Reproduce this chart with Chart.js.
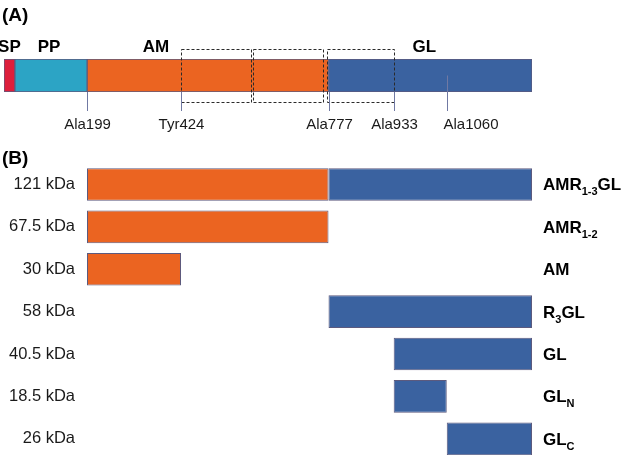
<!DOCTYPE html>
<html>
<head>
<meta charset="utf-8">
<script src="https://cdn.jsdelivr.net/npm/chart.js@4.4.1/dist/chart.umd.min.js"></script>
<style>
  html, body { margin: 0; padding: 0; background: #fff; overflow: hidden; }
  #wrap { position: relative; width: 625px; height: 455px; overflow: hidden; }
  canvas { position: absolute; left: 0; }
  #chart-a { top: 0; }
  #chart-b { top: 140px; }
</style>
</head>
<body>
<div id="wrap">
  <canvas id="chart-a" width="625" height="140"></canvas>
  <canvas id="chart-b" width="625" height="350"></canvas>
</div>
<script>
// (A) full-length protein, residue numbers
const domains = ['SP', 'PP', 'AM', 'GL'];
const domainStart = [0, 26, 199, 777];
const domainEnd = [26, 199, 777, 1264];
const domainColors = ['#dd1f3c', '#2ca4c5', '#eb6421', '#3a62a0'];

const markers = ['Ala199', 'Tyr424', 'Ala777', 'Ala933', 'Ala1060'];
const markerPos = [199, 424, 777, 933, 1060];

const repeatStart = [424, 597, 773];
const repeatEnd = [591, 763, 933];

// (B) constructs
const constructs = ['AMR_{1-3}GL', 'AMR_{1-2}', 'AM', 'R_{3}GL', 'GL', 'GL_{N}', 'GL_{C}'];
const massKDa = [121, 67.5, 30, 58, 40.5, 18.5, 26];
const amStart = [199, 199, 199, null, null, null, null];
const amEnd = [777, 777, 424, null, null, null, null];
const glStart = [777, null, null, 777, 933, 933, 1060];
const glEnd = [1264, null, null, 1264, 1264, 1060, 1264];

const FONT = "'Liberation Sans', Arial, Helvetica, sans-serif";
const OUTLINE = '#5c5a7e';

const pairs = (s, e) => s.map((v, i) => v == null ? null : [v, e[i]]);

const panelA = {
  id: 'panelA',
  afterDatasetsDraw(chart) {
    const ctx = chart.ctx, x = chart.scales.x, area = chart.chartArea;
    ctx.save();
    // repeat boxes
    ctx.setLineDash([3, 2]);
    ctx.strokeStyle = '#2a2a2a';
    ctx.lineWidth = 1;
    repeatStart.forEach((s, i) => {
      const x1 = Math.round(x.getPixelForValue(s)) + 0.5;
      const x2 = Math.round(x.getPixelForValue(repeatEnd[i])) + 0.5;
      const y1 = Math.round(area.top - 10) + 0.5;
      const y2 = Math.round(area.bottom + 10) + 0.5;
      ctx.strokeRect(x1, y1, x2 - x1, y2 - y1);
    });
    ctx.setLineDash([]);
    // marker lines and labels
    ctx.strokeStyle = '#7079a3';
    ctx.fillStyle = '#1a1a1a';
    ctx.font = '15px ' + FONT;
    ctx.textBaseline = 'alphabetic';
    markerPos.forEach((p, i) => {
      const px = Math.round(x.getPixelForValue(p)) + 0.5;
      const last = i === markerPos.length - 1;
      const top = last ? (area.top + area.bottom) / 2 : area.bottom;
      ctx.beginPath();
      ctx.moveTo(px, top);
      ctx.lineTo(px, area.bottom + 19);
      ctx.stroke();
      ctx.textAlign = last ? 'left' : 'center';
      ctx.fillText(markers[i], last ? px - 4 : px, area.bottom + 37);
    });
    // domain names
    const shift = [0, -2, -52, -6];
    ctx.font = 'bold 17px ' + FONT;
    ctx.textAlign = 'center';
    ctx.fillStyle = '#000';
    domains.forEach((d, i) => {
      const cx = x.getPixelForValue((domainStart[i] + domainEnd[i]) / 2) + shift[i];
      ctx.fillText(d, cx, area.top - 7.5);
    });
    ctx.textAlign = 'left';
    ctx.font = 'bold 19px ' + FONT;
    ctx.fillText('(A)', 2, 21);
    ctx.restore();
  }
};

new Chart(document.getElementById('chart-a'), {
  type: 'bar',
  data: {
    labels: ['full length'],
    datasets: domains.map((d, i) => ({
      label: d,
      data: [[domainStart[i], domainEnd[i]]],
      backgroundColor: domainColors[i],
      borderColor: OUTLINE,
      borderWidth: 1,
      borderSkipped: false,
      grouped: false,
      barPercentage: 1,
      categoryPercentage: 1
    }))
  },
  options: {
    indexAxis: 'y',
    responsive: false,
    animation: false,
    layout: { padding: { left: 4, right: 93, top: 59, bottom: 48 } },
    scales: {
      x: { display: false, min: 0, max: 1264 },
      y: { display: false }
    },
    plugins: { legend: { display: false }, tooltip: { enabled: false } }
  },
  plugins: [panelA]
});

function drawSubLabel(ctx, text, x, y) {
  const parts = text.split(/(_\{[^}]*\})/).filter(Boolean);
  let cx = x;
  parts.forEach(p => {
    if (p.startsWith('_{')) {
      const t = p.slice(2, -1);
      ctx.font = 'bold 11px ' + FONT;
      ctx.fillText(t, cx, y + 5);
      cx += ctx.measureText(t).width;
    } else {
      ctx.font = 'bold 17px ' + FONT;
      ctx.fillText(p, cx, y);
      cx += ctx.measureText(p).width;
    }
  });
}

const panelB = {
  id: 'panelB',
  afterDraw(chart) {
    const ctx = chart.ctx, y = chart.scales.y;
    ctx.save();
    ctx.fillStyle = '#000';
    ctx.textAlign = 'left';
    ctx.textBaseline = 'alphabetic';
    ctx.font = 'bold 19px ' + FONT;
    ctx.fillText('(B)', 2, 24);
    constructs.forEach((c, i) => {
      drawSubLabel(ctx, c, 543, y.getPixelForValue(i) + 6);
    });
    ctx.restore();
  }
};

new Chart(document.getElementById('chart-b'), {
  type: 'bar',
  data: {
    labels: massKDa.map(m => m + ' kDa'),
    datasets: [
      { label: 'AM', data: pairs(amStart, amEnd), backgroundColor: domainColors[2] },
      { label: 'GL', data: pairs(glStart, glEnd), backgroundColor: domainColors[3] }
    ].map(ds => Object.assign(ds, {
      borderColor: OUTLINE,
      borderWidth: 1,
      borderSkipped: false,
      grouped: false,
      barPercentage: 0.77,
      categoryPercentage: 1
    }))
  },
  options: {
    indexAxis: 'y',
    responsive: false,
    animation: false,
    layout: { padding: { left: 0, right: 93, top: 23.3, bottom: 30 } },
    scales: {
      x: { display: false, min: 199, max: 1264 },
      y: {
        grid: { display: false, drawTicks: false },
        border: { display: false },
        ticks: { color: '#1a1a1a', padding: 12, font: { family: FONT, size: 16.5 } },
        afterFit: (scale) => { scale.width = 87; }
      }
    },
    plugins: { legend: { display: false }, tooltip: { enabled: false } }
  },
  plugins: [panelB]
});
</script>
</body>
</html>
